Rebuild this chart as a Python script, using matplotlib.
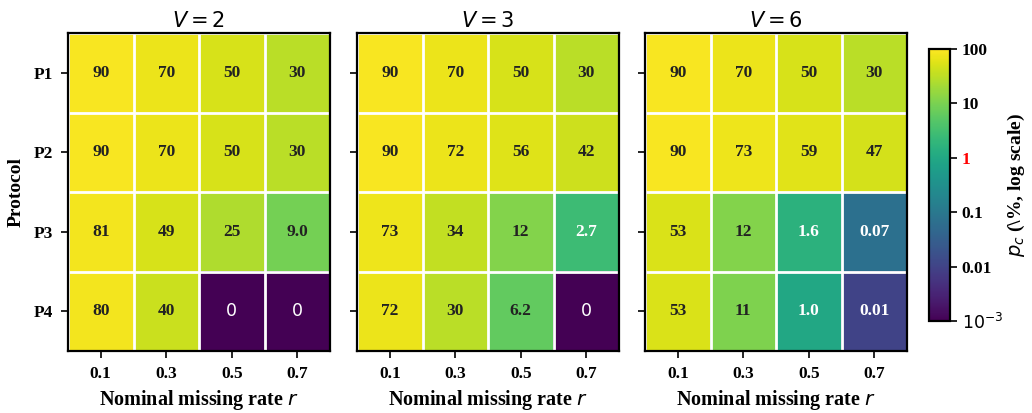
import numpy as np
import matplotlib
matplotlib.use('Agg')
import matplotlib.pyplot as plt
from matplotlib.colors import LogNorm

rates = ['0.1', '0.3', '0.5', '0.7']
protocols = ['P1', 'P2', 'P3', 'P4']
titles = ['$V = 2$', '$V = 3$', '$V = 6$']

pc_v2 = [[90, 70, 50, 30],
         [90, 70, 50, 30],
         [81, 49, 25, 9.0],
         [80, 40, 0, 0]]
pc_v3 = [[90, 70, 50, 30],
         [90, 72, 56, 42],
         [73, 34, 12, 2.7],
         [72, 30, 6.2, 0]]
pc_v6 = [[90, 70, 50, 30],
         [90, 73, 59, 47],
         [53, 12, 1.6, 0.07],
         [53, 11, 1.0, 0.01]]

serif = 'Liberation Serif'
norm = LogNorm(vmin=1e-3, vmax=100)


def fmt(v):
    if v >= 10:
        return f'{v:.0f}'
    if v >= 1:
        return f'{v:.1f}'
    return f'{v:.2f}'


fig = plt.figure(figsize=(10.32, 4.13), dpi=100)
W, H = 1032, 413
lefts = [68, 357, 645]
axw = 262
top, bot = 33, 351

for k, (data, title) in enumerate(zip([pc_v2, pc_v3, pc_v6], titles)):
    ax = fig.add_axes([lefts[k] / W, 1 - bot / H, axw / W, (bot - top) / H])
    arr = np.array(data, dtype=float)
    shown = np.where(arr > 0, arr, 1e-3)
    im = ax.imshow(shown, cmap='viridis', norm=norm, aspect='auto')
    for i in range(4):
        for j in range(4):
            v = arr[i, j]
            if v == 0:
                ax.text(j, i, '0', ha='center', va='center', color='white',
                        fontsize=12.5, family='DejaVu Sans')
            else:
                c = 'white' if v < 5 else '#222222'
                ax.text(j, i, fmt(v), ha='center', va='center', color=c,
                        fontsize=12.5, family=serif, fontweight='bold')
    ax.set_xticks(range(4))
    ax.set_xticklabels(rates, family=serif, fontweight='bold', fontsize=12.5)
    ax.set_yticks(range(4))
    if k == 0:
        ax.set_yticklabels(protocols, family=serif, fontweight='bold', fontsize=12.5)
        ax.set_ylabel('Protocol', family=serif, fontweight='bold', fontsize=14, labelpad=6)
    else:
        ax.set_yticklabels([])
    ax.set_xticks(np.arange(-0.5, 4, 1), minor=True)
    ax.set_yticks(np.arange(-0.5, 4, 1), minor=True)
    ax.grid(which='minor', color='white', linewidth=2)
    ax.tick_params(which='minor', length=0)
    ax.tick_params(which='major', length=5, width=1.2, pad=6)
    for s in ax.spines.values():
        s.set_linewidth(1.6)
    ax.set_xlabel('Nominal missing rate $r$', family=serif, fontweight='bold',
                  fontsize=14.5, labelpad=4)
    ax.set_title(title, fontsize=15, family='DejaVu Sans', pad=4)

cax = fig.add_axes([929 / W, 1 - 321 / H, 21 / W, (321 - 49) / H])
cb = fig.colorbar(im, cax=cax)
cb.set_ticks([1e-3, 1e-2, 1e-1, 1, 10, 100])
cb.set_ticklabels(['$10^{-3}$', '0.01', '0.1', '1', '10', '100'])
cb.minorticks_off()
for t in cax.get_yticklabels():
    if t.get_text() != '$10^{-3}$':
        t.set_family(serif)
        t.set_fontweight('bold')
    t.set_fontsize(12.5)
cax.get_yticklabels()[3].set_color('red')
cax.tick_params(length=5, width=1.2)
cb.outline.set_linewidth(1.6)
cb.set_label('$p_c$ (\\%, log scale)', family=serif, fontweight='bold', fontsize=14, labelpad=2)

fig.savefig('out.png', dpi=100)
